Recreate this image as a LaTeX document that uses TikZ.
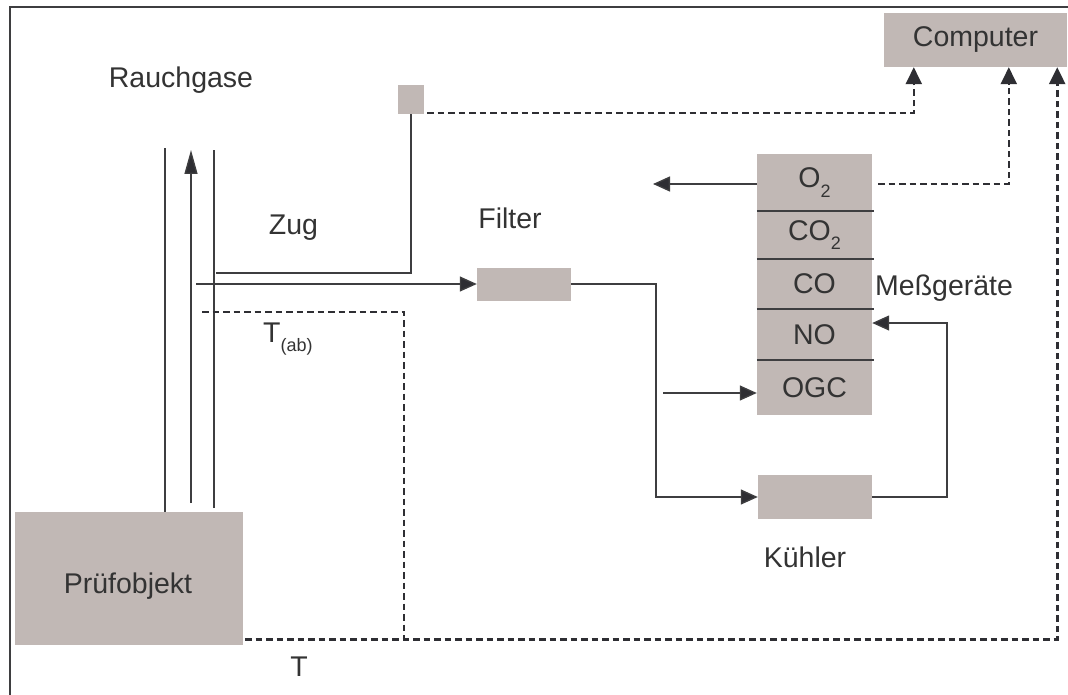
\documentclass[tikz,border=0pt]{standalone}
\usepackage{fontspec}
\setmainfont{Liberation Sans}
\usepackage{xcolor}
\definecolor{boxgray}{HTML}{C1B8B5}
\definecolor{linegray}{HTML}{3E3E40}
\definecolor{tipgray}{HTML}{2E2E33}
\definecolor{textgray}{HTML}{333333}
\usetikzlibrary{arrows.meta}
\newcommand{\lowsub}[1]{\raisebox{-0.32em}{\fontsize{18}{18}\selectfont #1}}

\begin{document}
\begin{tikzpicture}[x=1pt, y=-1pt,
    every node/.style={font=\fontsize{28.5}{32}\selectfont, text=textgray, inner sep=0pt},
    graybox/.style={fill=boxgray, draw=none},
    cell/.style={graybox, minimum width=115pt},
    flow/.style={line width=1.4pt, draw=linegray, -{Triangle[length=17pt,width=15pt,fill=tipgray]}},
    pipe/.style={line width=1.4pt, draw=linegray},
    signal/.style={line width=2.6pt, draw=tipgray, dash pattern=on 6.5pt off 4pt,
      -{Triangle[length=17pt,width=16pt,fill=tipgray]}}
]
  \useasboundingbox (0,0) rectangle (1068,695);

  % Rahmen (oben und links)
  \draw[line width=2pt, draw=linegray] (10,695) -- (10,7) -- (1068,7);

  % Kaesten
  \node[graybox, minimum width=228pt, minimum height=133pt] (pruef) at (129,578.5) {};
  \node[graybox, minimum width=183pt, minimum height=54pt] (computer) at (975.5,40) {Computer};
  \node[graybox, minimum width=26pt, minimum height=29pt] (sensor) at (411,99.5) {};
  \node[graybox, minimum width=94pt, minimum height=33pt] (filter) at (524,284) {};
  \node[graybox, minimum width=114pt, minimum height=44pt] (kuehler) at (815,497) {};

  % Messgeraete als Stapel
  \node[cell, minimum height=57pt] (o2) at (814.5,182.5) {O\lowsub{2}};
  \node[cell, minimum height=48pt] (co2) at (814.5,235) {CO\lowsub{2}};
  \node[cell, minimum height=50pt] (co) at (814.5,284) {CO};
  \node[cell, minimum height=51pt] (no) at (814.5,334.5) {NO};
  \node[cell, minimum height=55pt] (ogc) at (814.5,387.5) {OGC};
  \foreach \c in {o2,co2,co,no}
    \draw[line width=1.6pt, draw=linegray] (\c.south west) -- ([xshift=2pt]\c.south east);

  % Beschriftungen
  \node[anchor=base] (rauchgase) at (181,88) {Rauchgase};
  \node[anchor=base] (zug) at (293.5,235) {Zug};
  \node[anchor=base] (filterlbl) at (510,228.5) {Filter};
  \node[anchor=base west] (messlbl) at (875,295.5) {Meßgeräte};
  \node[anchor=base] (kuehlerlbl) at (805,567.5) {Kühler};
  \node[anchor=base] (pruefobj) at (128,593) {Prüfobjekt};
  \node[anchor=base west] (tab) at (263,342) {T\lowsub{(ab)}};
  \node[anchor=base] (tlbl) at (299,676) {T};

  % Kamin
  \coordinate (wallL) at (165,148);
  \coordinate (wallR) at (214,150);
  \coordinate (flueA) at (191,503);
  \coordinate (flueB) at (191,150);
  \draw[pipe] (pruef.north -| wallL) -- (wallL);
  \draw[pipe] (214,508) -- (wallR);
  \draw[line width=1.4pt, draw=linegray, -{Triangle[length=24pt,width=13pt,fill=tipgray]}] (flueA) -- (flueB);

  % Zugmessung
  \coordinate (zugA) at (216,273);
  \draw[line width=1.8pt, draw=linegray] (zugA) -| (sensor.south);

  % Gasweg
  \coordinate (probe) at (196,284);
  \coordinate (split) at (656,497);
  \coordinate (ogcin) at (663,393);
  \coordinate (ret) at (947,323);
  \coordinate (o2out) at (653,184);
  \draw[flow] (probe) -- (filter.west);
  \draw[flow] (filter.east) -| (split) -- (kuehler.west);
  \draw[flow] (ogcin) -- (ogc.west |- ogcin);
  \draw[flow] (kuehler.east) -| (ret) -- (no.east |- ret);
  \draw[flow] (o2.west |- o2out) -- (o2out);

  % Signale zum Computer
  \coordinate (tabA) at (202,312);
  \coordinate (tabB) at (404,639);
  \draw[signal] ([xshift=3pt,yshift=1pt]sensor.south east) -| ([xshift=30pt]computer.south west);
  \draw[signal] ([xshift=6pt]o2.east |- o2out) -| ([xshift=125pt]computer.south west);
  \draw[signal] ([xshift=2pt,yshift=6pt]pruef.south east) -| ([xshift=-10pt]computer.south east);
  \draw[signal, -] (tabA) -| (tabB);

\end{tikzpicture}
\end{document}
